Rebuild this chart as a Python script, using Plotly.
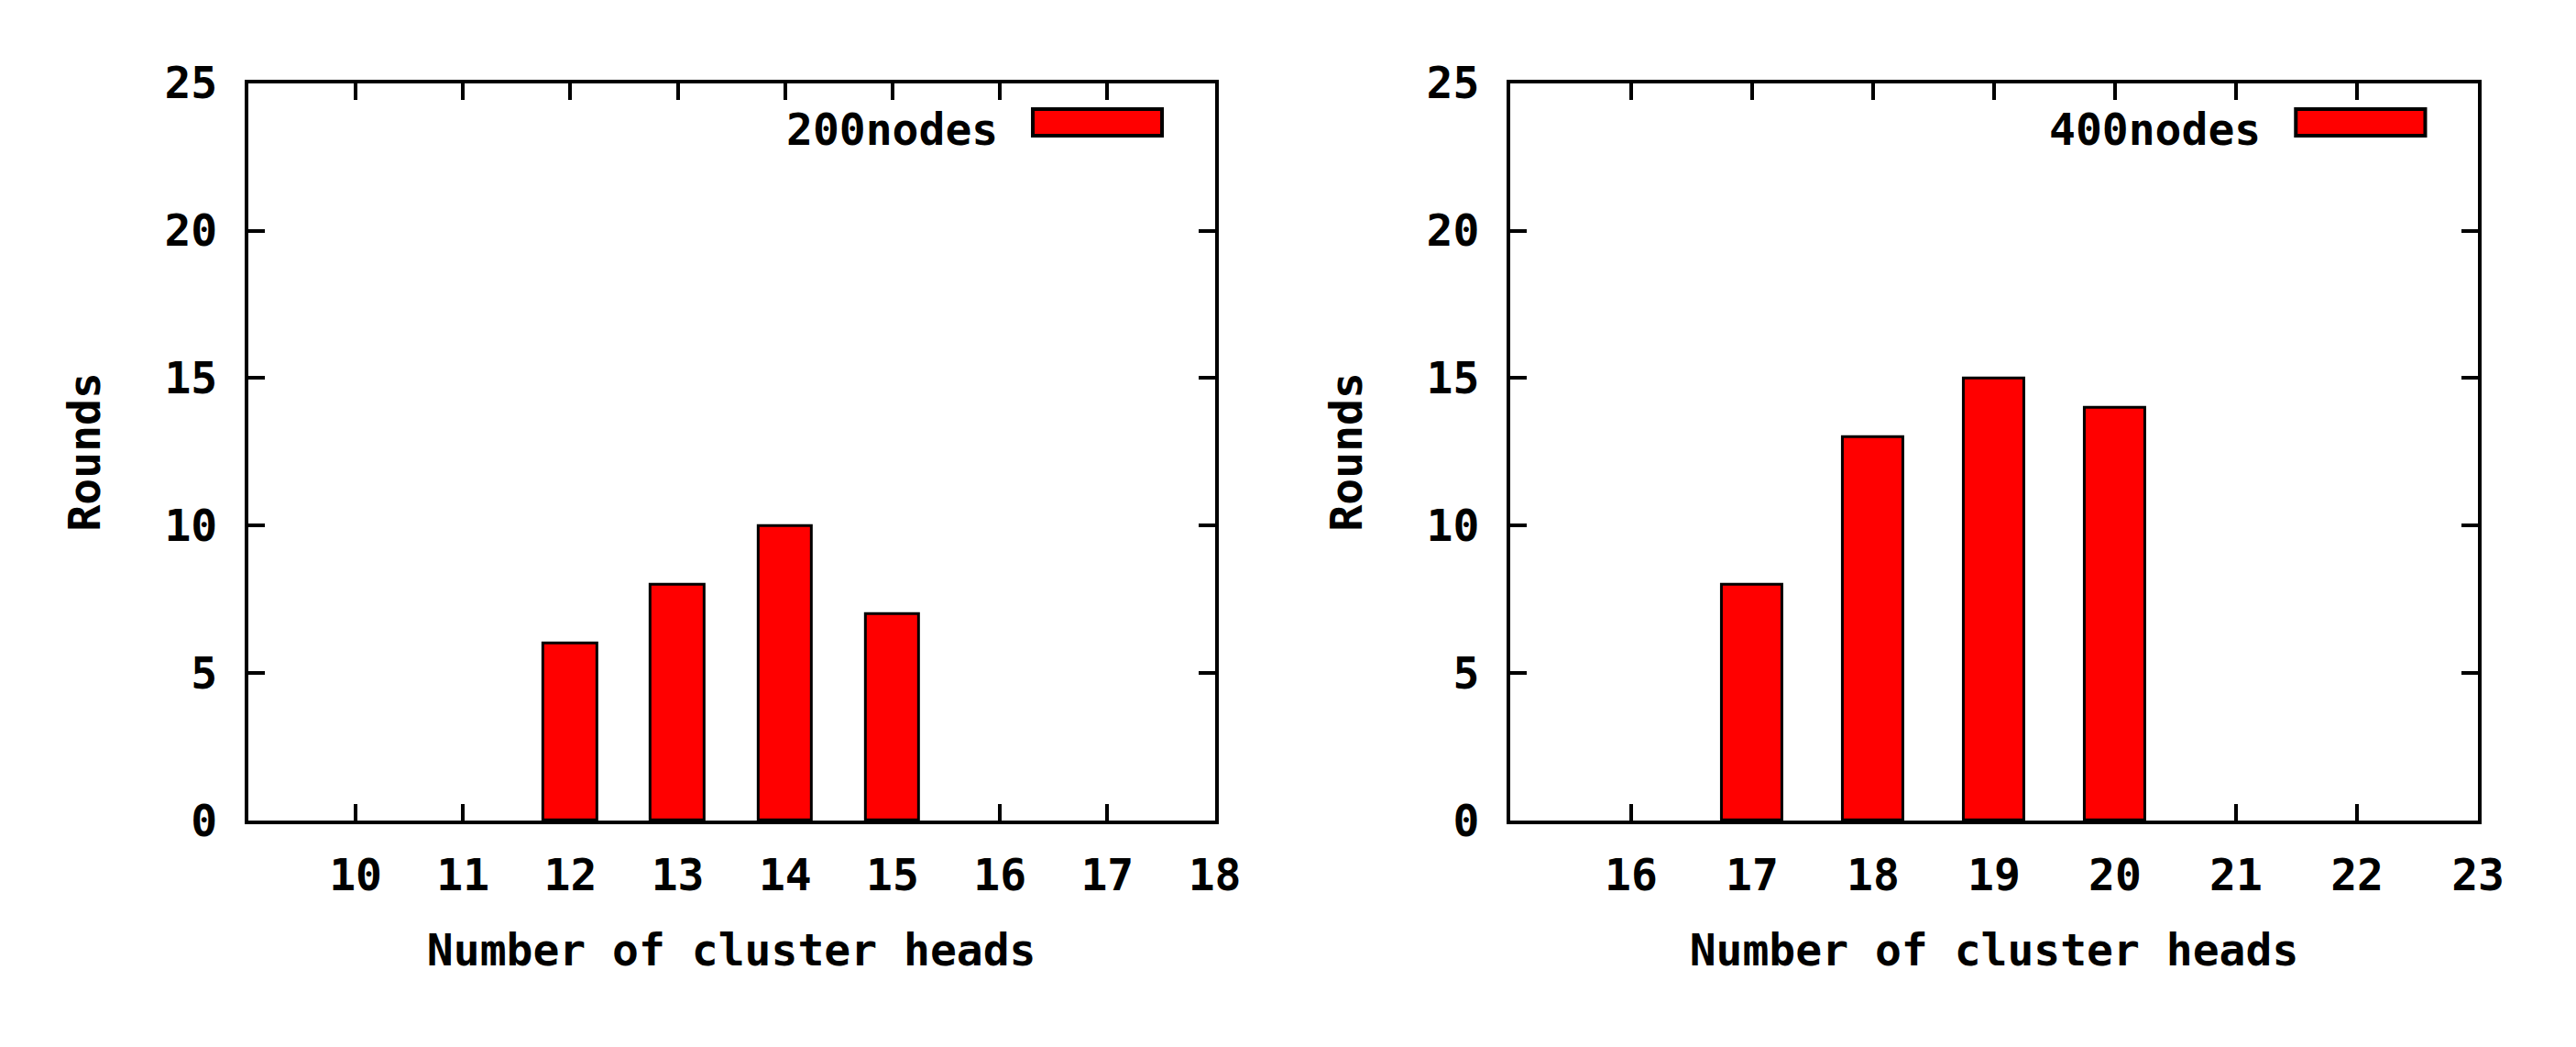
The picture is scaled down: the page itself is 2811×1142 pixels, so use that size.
import plotly.graph_objects as go
from plotly.subplots import make_subplots

# cluster head counts and rounds for each network size
heads_200 = [12, 13, 14, 15]
rounds_200 = [6, 8, 10, 7]
heads_400 = [17, 18, 19, 20]
rounds_400 = [8, 13, 15, 14]

xticks_200 = [10, 11, 12, 13, 14, 15, 16, 17, 18]
xticks_400 = [16, 17, 18, 19, 20, 21, 22, 23]
yticks = [0, 5, 10, 15, 20, 25]

names = ["200nodes", "400nodes"]

FONT = "DejaVu Sans Mono"
font = dict(family=FONT, size=48, color="black", weight="bold")

fig = make_subplots(rows=1, cols=2)

for col, (xs, ys) in enumerate([(heads_200, rounds_200), (heads_400, rounds_400)], start=1):
    fig.add_trace(
        go.Bar(x=xs, y=ys, width=0.5, name=names[col - 1],
               marker=dict(color="#ff0000", line=dict(color="black", width=3))),
        row=1, col=col,
    )

axis_style = dict(
    showline=True, linecolor="black", linewidth=4, mirror="ticks",
    ticks="inside", ticklen=18, tickwidth=4, tickcolor="black",
    showgrid=False, zeroline=False, tickfont=font, automargin=False,
)

fig.update_xaxes(axis_style)
fig.update_yaxes(axis_style)

fig.update_xaxes(row=1, col=1, domain=[0.0935, 0.4687], range=[9, 18],
                 tickvals=xticks_200, layer="below traces", ticklabelstandoff=14,
                 title=dict(text="Number of cluster heads", font=font, standoff=40))
fig.update_xaxes(row=1, col=2, domain=[0.5834, 0.9591], range=[15, 23],
                 tickvals=xticks_400, layer="below traces", ticklabelstandoff=14,
                 title=dict(text="Number of cluster heads", font=font, standoff=40))
for col in (1, 2):
    fig.update_yaxes(row=1, col=col, domain=[0.2233, 0.9276], range=[0, 25],
                     tickvals=yticks, ticklabelstandoff=20,
                     title=dict(text="Rounds", font=font, standoff=56))

# gnuplot style key: label on the left, wide red sample box on the right
for i, name in enumerate(names):
    xr = "x domain" if i == 0 else "x2 domain"
    yr = "y domain" if i == 0 else "y2 domain"
    fig.add_annotation(xref=xr, yref=yr, x=0.7777, y=0.937, text=name,
                       showarrow=False, xanchor="right", yanchor="middle", font=font)
    fig.add_shape(type="rect", xref=xr, yref=yr, x0=0.8118, x1=0.9455, y0=0.9288, y1=0.9648,
                  fillcolor="#ff0000", line=dict(color="black", width=4))

fig.update_layout(
    width=2811, height=1142,
    margin=dict(l=0, r=0, t=0, b=0),
    plot_bgcolor="white", paper_bgcolor="white",
    showlegend=False, bargap=0,
)

fig.write_html("out.html")
